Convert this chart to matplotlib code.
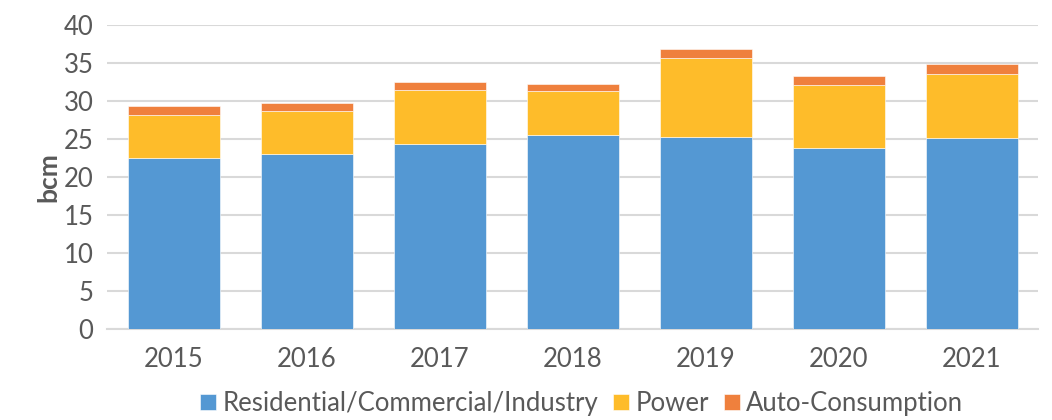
import numpy as np
import matplotlib.pyplot as plt

years = ['2015', '2016', '2017', '2018', '2019', '2020', '2021']
residential = [22.5, 23.0, 24.3, 25.6, 25.3, 23.8, 25.2]
power = [5.7, 5.7, 7.1, 5.7, 10.4, 8.3, 8.4]
auto_cons = [1.1, 1.1, 1.1, 1.0, 1.1, 1.2, 1.3]

series_names = ['Residential/Commercial/Industry', 'Power', 'Auto-Consumption']
colors = ['#5498D3', '#FEBC2A', '#EF803D']
grey = '#595959'

plt.rcParams['font.family'] = ['Lato', 'DejaVu Sans']

fig = plt.figure(figsize=(10.52, 4.2), dpi=100)
ax = fig.add_axes([0.102, 0.217, 0.885, 0.723])

x = np.arange(len(years))
w = 0.69
bottom = np.zeros(len(years))
for vals, name, c in zip([residential, power, auto_cons], series_names, colors):
    ax.bar(x, vals, w, bottom=bottom, color=c, label=name,
           edgecolor='white', linewidth=0.4, zorder=3)
    bottom += np.array(vals)

ax.set_ylim(0, 40)
ax.set_xlim(-0.5, len(years) - 0.5)
ax.set_yticks(range(0, 41, 5))
ax.set_xticks(x)
ax.set_xticklabels(years)
ax.yaxis.grid(True, color='#d9d9d9', linewidth=1.5, zorder=0)
ax.set_axisbelow(True)
for s in ['top', 'right', 'left']:
    ax.spines[s].set_visible(False)
ax.spines['bottom'].set_color('#d9d9d9')
ax.spines['bottom'].set_linewidth(1.5)
ax.tick_params(axis='both', length=0, labelsize=18.5, labelcolor=grey)
ax.tick_params(axis='x', pad=13)
ax.tick_params(axis='y', pad=10)
ax.set_ylabel('bcm', fontsize=19, fontweight='bold', color=grey, labelpad=2)

fig.legend(loc='lower center', bbox_to_anchor=(0.553, -0.045), ncol=3, frameon=False,
           fontsize=18.5, labelcolor=grey, handlelength=0.6, handleheight=0.6,
           handletextpad=0.25, columnspacing=0.6)

fig.savefig('out.png', dpi=100)
